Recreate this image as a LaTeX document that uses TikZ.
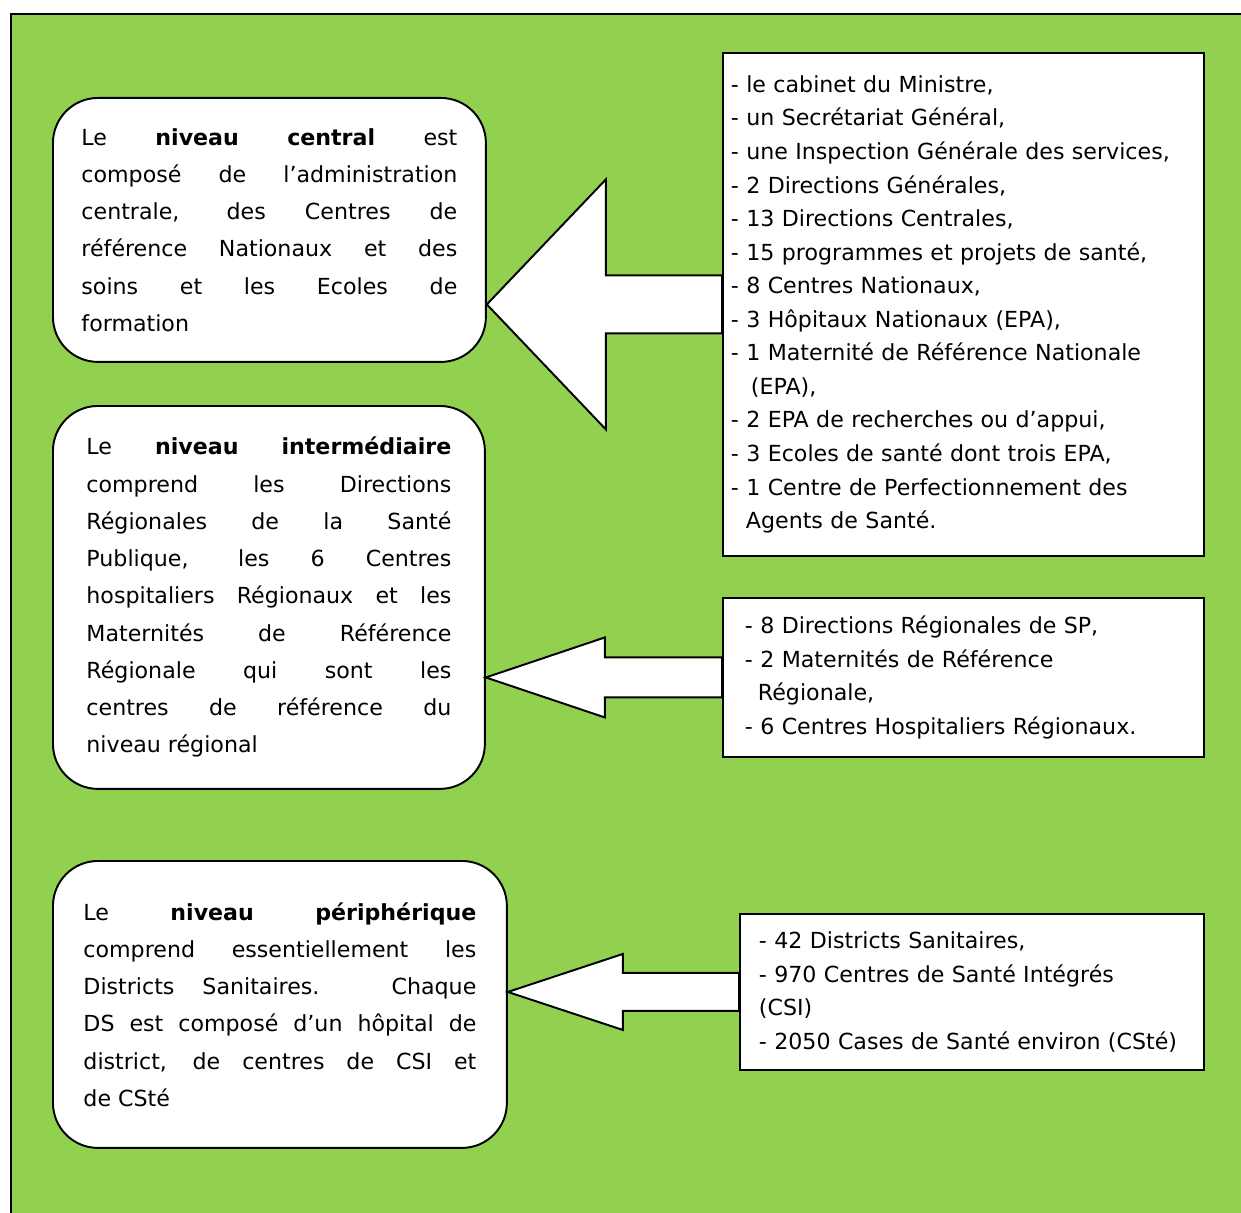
\documentclass[tikz,border=0pt]{standalone}
\usepackage{fontspec}
\setmainfont{DejaVu Sans}
\usetikzlibrary{calc}
\definecolor{bggreen}{HTML}{92D050}

\begin{document}
\begin{tikzpicture}[x=0.02cm,y=-0.02cm,
	levelbox/.style={draw,fill=white,line width=1.1pt,rounded corners=0.9cm,anchor=north west,align=justify,inner ysep=0pt,
		font=\fontsize{12.6}{21.2}\selectfont},
	listbox/.style={draw,fill=white,line width=1.1pt,anchor=north west,align=left,inner ysep=0pt,
		font=\fontsize{12.6}{19.1}\selectfont},
	blockarrow/.style={draw,fill=white,line width=1.1pt,line join=miter}]
	\useasboundingbox (0,0) rectangle (1241,1213);
	\fill[bggreen] (11,14) rectangle (1241,1213);
	\draw[line width=1.7pt] (1241,14) -- (11,14) -- (11,1213);

	\node[levelbox,text width=7.52cm,inner xsep=0.57cm,minimum height=5.28cm] (cent) at (52,97)
		{Le \textbf{niveau} \textbf{central} est\linebreak composé de l’administration\linebreak centrale, des Centres de\linebreak référence Nationaux et des\linebreak soins et les Ecoles de\linebreak formation};
	\node[levelbox,text width=7.30cm,inner xsep=0.67cm,minimum height=7.66cm] (inter) at (52,405)
		{Le \textbf{niveau} \textbf{intermédiaire}\linebreak comprend les Directions\linebreak Régionales de la Santé\linebreak Publique, les 6 Centres\linebreak hospitaliers Régionaux et les\linebreak Maternités de Référence\linebreak Régionale qui sont les\linebreak centres de référence du\linebreak niveau régional};
	\node[levelbox,text width=7.86cm,inner xsep=0.61cm,minimum height=5.74cm] (peri) at (52,860)
		{Le \textbf{niveau} \textbf{périphérique}\linebreak comprend essentiellement les\linebreak Districts Sanitaires. Chaque\linebreak DS est composé d’un hôpital de\linebreak district, de centres de CSI et\linebreak de CSté};

	\node[listbox,text width=9.30cm,inner xsep=0.16cm,minimum height=10.06cm] (listcent) at (722,52)
		{- le cabinet du Ministre,\\
		- un Secrétariat Général,\\
		- une Inspection Générale des services,\\
		- 2 Directions Générales,\\
		- 13 Directions Centrales,\\
		- 15 programmes et projets de santé,\\
		- 8 Centres Nationaux,\\
		- 3 Hôpitaux Nationaux (EPA),\\
		- 1 Maternité de Référence Nationale\\
		\hspace*{0.4cm}(EPA),\\
		- 2 EPA de recherches ou d’appui,\\
		- 3 Ecoles de santé dont trois EPA,\\
		- 1 Centre de Perfectionnement des\\
		\hspace*{0.3cm}Agents de Santé.};
	\node[listbox,text width=8.74cm,inner xsep=0.44cm,minimum height=3.18cm] (listinter) at (722,597)
		{- 8 Directions Régionales de SP,\\
		- 2 Maternités de Référence\\
		\hspace*{0.26cm}Régionale,\\
		- 6 Centres Hospitaliers Régionaux.};
	\node[listbox,text width=8.52cm,inner xsep=0.38cm,minimum height=3.12cm] (listperi) at (739,913)
		{- 42 Districts Sanitaires,\\
		- 970 Centres de Santé Intégrés\\
		(CSI)\\
		- 2050 Cases de Santé environ (CSté)};

	\coordinate (tipcent) at (cent.east |- listcent.west);
	\coordinate (tipinter) at (inter.east |- listinter.west);
	\coordinate (tipperi) at (peri.east |- listperi.west);
	\draw[blockarrow] (tipcent) -- ++(119,-125) -- ++(0,96) -- ($(listcent.west)+(0,-29)$) -- ($(listcent.west)+(0,29)$)
		-- ($(tipcent)+(119,29)$) -- ($(tipcent)+(119,125)$) -- cycle;
	\draw[blockarrow] (tipinter) -- ++(119,-40) -- ++(0,20) -- ($(listinter.west)+(0,-20)$) -- ($(listinter.west)+(0,20)$)
		-- ($(tipinter)+(119,20)$) -- ($(tipinter)+(119,40)$) -- cycle;
	\draw[blockarrow] (tipperi) -- ++(115,-38) -- ++(0,19) -- ($(listperi.west)+(0,-19)$) -- ($(listperi.west)+(0,19)$)
		-- ($(tipperi)+(115,19)$) -- ($(tipperi)+(115,38)$) -- cycle;
\end{tikzpicture}
\end{document}
